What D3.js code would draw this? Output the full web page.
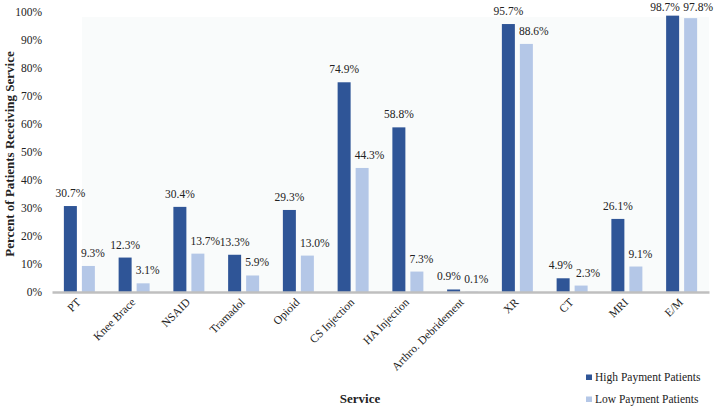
<!DOCTYPE html>
<html><head><meta charset="utf-8">
<script src="https://cdn.jsdelivr.net/npm/d3@7"></script>
<style>body{margin:0;background:#fff}svg{display:block}</style>
</head><body><svg id="c" width="714" height="406"></svg>
<script>
const categories = ["PT","Knee Brace","NSAID","Tramadol","Opioid","CS Injection","HA Injection","Arthro. Debridement","XR","CT","MRI","E/M"];
const highPayment = [30.7,12.3,30.4,13.3,29.3,74.9,58.8,0.9,95.7,4.9,26.1,98.7];
const lowPayment = [9.3,3.1,13.7,5.9,13.0,44.3,7.3,0.1,88.6,2.3,9.1,97.8];
const seriesNames = ["High Payment Patients","Low Payment Patients"];
const colors = ["#2F5597","#B4C7E7"];
const yTicks = [0,10,20,30,40,50,60,70,80,90,100];

const FONT = '"Liberation Serif"';
const svg = d3.select("#c");
const x0 = 52, x1 = 709, yTop = 12, yBase = 292;
const x = d3.scaleBand().domain(categories).range([x0,x1]).paddingInner(0).paddingOuter(0);
const y = d3.scaleLinear().domain([0,100]).range([yBase,yTop]);

svg.append("rect").attr("x",82).attr("y",17).attr("width",x1-82).attr("height",yBase-17).attr("fill","#f9fbfb");

const yAxis = d3.axisLeft(y).tickValues(yTicks).tickFormat(d=>d+"%").tickSize(0).tickPadding(0);
const ga = svg.append("g").attr("transform","translate(42,0)").call(yAxis);
ga.attr("font-family",null);
ga.select(".domain").remove();
ga.selectAll("text").style("font-family",FONT).attr("font-size",11.5).attr("fill","#222");

const bw = 13, gap = 5;
const off = (x.bandwidth() - (2*bw+gap))/2;
const series = [highPayment, lowPayment];
const labelGroups = [];
series.forEach((vals,si)=>{
  const g = svg.append("g");
  g.selectAll("rect").data(vals).join("rect")
    .attr("x",(d,i)=>x(categories[i])+off+si*(bw+gap))
    .attr("y",d=>y(d)).attr("width",bw).attr("height",d=>yBase-y(d))
    .attr("fill",colors[si]);
  const t = g.selectAll("text").data(vals).join("text")
    .attr("x",(d,i)=>x(categories[i])+off+si*(bw+gap)+bw/2)
    .attr("y",d=>Math.max(y(d)-9, 10.5))
    .attr("text-anchor","middle").attr("font-size",11.5).attr("fill","#222")
    .style("font-family",FONT)
    .text(d=>d.toFixed(1)+"%");
  labelGroups.push(t.nodes());
});
categories.forEach((c,i)=>{
  const a = labelGroups[0][i], b = labelGroups[1][i];
  const barRight = x(c)+off+bw, barTop = y(highPayment[i]);
  let bb = b.getBBox();
  if (bb.y + bb.height > barTop && bb.x < barRight) {
    b.setAttribute("x", +b.getAttribute("x") + (barRight + 4 - bb.x));
  }
  const ba = a.getBBox(); bb = b.getBBox();
  const vOverlap = Math.abs(ba.y - bb.y) < ba.height;
  const hOverlap = ba.x + ba.width + 3 - bb.x;
  if (vOverlap && hOverlap > 0) {
    const s = hOverlap/2;
    a.setAttribute("x", +a.getAttribute("x") - s);
    b.setAttribute("x", +b.getAttribute("x") + s);
  }
});

const xAxis = d3.axisBottom(x).tickSize(0).tickPadding(0);
const gx = svg.append("g").attr("transform",`translate(0,${yBase})`).call(xAxis);
gx.attr("font-family",null);
gx.select(".domain").attr("stroke","#bfbfbf").attr("stroke-width",2.5);
gx.selectAll("text").style("font-family",FONT).attr("font-size",11.5).attr("fill","#222")
  .attr("text-anchor","end").attr("dy",0).attr("y",0)
  .attr("transform","translate(2,11) rotate(-45)");

svg.append("text").attr("x",360).attr("y",403).attr("text-anchor","middle").attr("font-size",13).attr("font-weight","bold").attr("fill","#222").style("font-family",FONT).text("Service");
svg.append("text").attr("transform","translate(14,154) rotate(-90)").attr("text-anchor","middle").attr("font-size",13).attr("font-weight","bold").attr("fill","#222").style("font-family",FONT).text("Percent of Patients Receiving Service");

seriesNames.forEach((n,i)=>{
  const ly = 380.5 + i*22;
  svg.append("rect").attr("x",586).attr("y",ly-6).attr("width",6).attr("height",5.5).attr("fill",colors[i]);
  svg.append("text").attr("x",595).attr("y",ly).attr("font-size",11.5).attr("fill","#222").style("font-family",FONT).text(n);
});
</script></body></html>
